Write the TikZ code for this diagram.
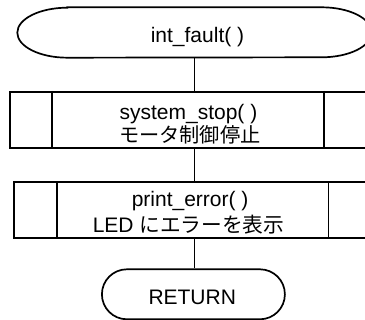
\documentclass[tikz,border=0pt]{standalone}
\usepackage{fontspec}
\setmainfont{Liberation Sans}
\newfontfamily\jp{Noto Sans CJK JP}
\usetikzlibrary{shapes.misc}
\begin{document}
\begin{tikzpicture}[x=1pt,y=1pt,
  ln/.style={line width=1.7pt, draw=black},
  txt/.style={inner sep=0pt, anchor=base west, font=\fontsize{21}{25}\selectfont},
  jtxt/.style={txt, font=\fontsize{20.2}{25}\selectfont\jp},
  boxs/.style={ln, rectangle, inner sep=0pt, minimum height=56pt}]
\useasboundingbox (0,0) rectangle (365,320);
% top terminator
\node[inner sep=0pt, minimum width=354pt, minimum height=50pt] (start) at (194.5,287.5) {};
\draw[ln] ([xshift=50pt]start.north west) -- ([xshift=-50pt]start.north east)
  arc[start angle=90,end angle=-90,x radius=50pt,y radius=25pt]
  -- ([xshift=50pt]start.south west)
  arc[start angle=270,end angle=90,x radius=50pt,y radius=25pt] -- cycle;
\node[txt] (t0) at (150.6,277) {int\_fault( )};
% box 1
\node[boxs, minimum width=356pt] (b1) at (188,200.3) {};
\draw[ln] ([xshift=43pt]b1.north west) -- ([xshift=43pt]b1.south west);
\draw[ln] ([xshift=-43pt]b1.north east) -- ([xshift=-43pt]b1.south east);
\node[txt] (t1a) at (119.4,200.5) {system\_stop( )};
\node[jtxt] (t1b) at (119,177.5) {モータ制御停止};
% box 2
\node[boxs, minimum width=357pt] (b2) at (192.5,110) {};
\draw[ln] ([xshift=43.5pt]b2.north west) -- ([xshift=43.5pt]b2.south west);
\draw[ln] ([xshift=-43.5pt]b2.north east) -- ([xshift=-43.5pt]b2.south east);
\node[txt] (t2a) at (131.6,113) {print\_error( )};
\node[txt] (t2b) at (92.6,87.3) {LED {\jp\fontsize{20.7}{25}\selectfont にエラーを表示}};
% return
\node[ln, rounded rectangle, inner sep=0pt, minimum width=183pt, minimum height=50pt] (ret) at (193.4,25.7) {};
\node[txt] (t3) at (148.3,15) {RETURN};
% connectors
\draw[ln] (start.south) -- (start.south |- b1.north);
\draw[ln] (start.south |- b1.south) -- (start.south |- b2.north);
\draw[ln] (start.south |- b2.south) -- (start.south |- ret.north);
\end{tikzpicture}
\end{document}
